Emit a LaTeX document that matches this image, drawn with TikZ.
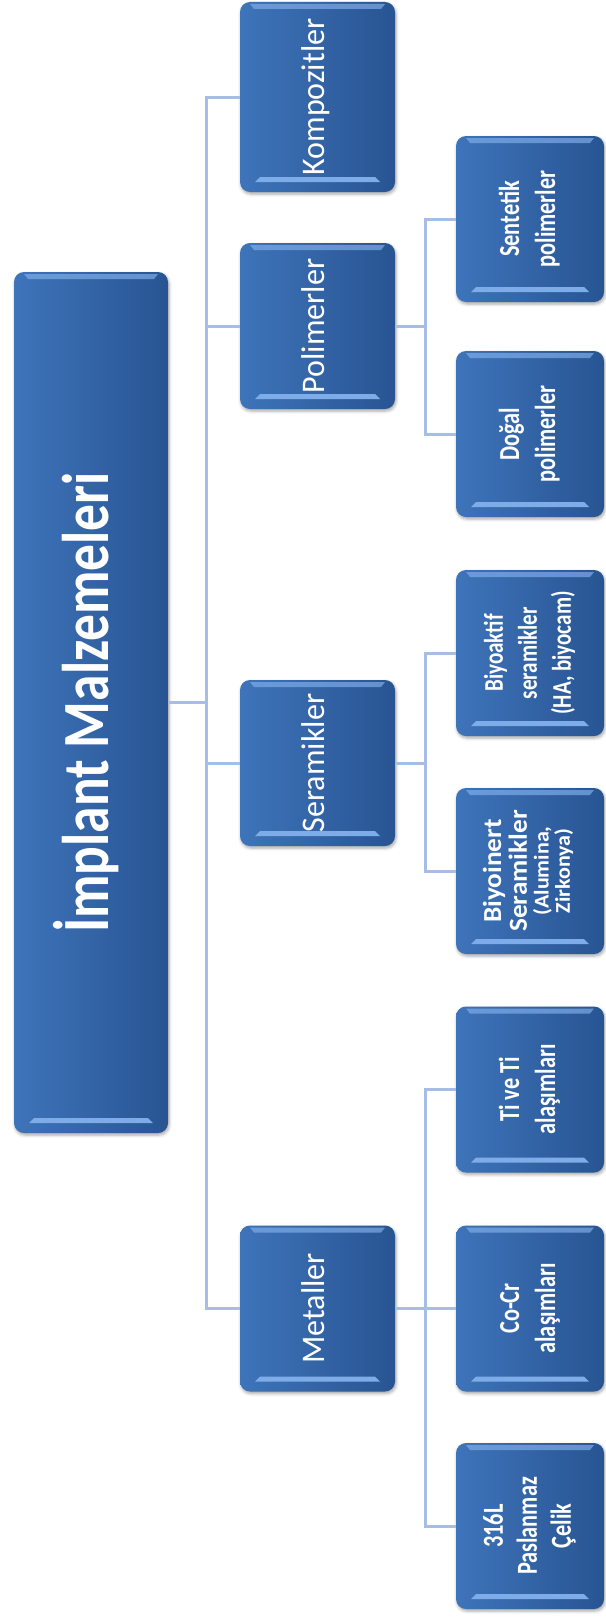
\documentclass[tikz,border=0pt]{standalone}
\usepackage{fontspec}
\setmainfont{Carlito}
\usetikzlibrary{shadows.blur}
\definecolor{boxleft}{RGB}{62,116,186}
\definecolor{boxright}{RGB}{40,84,146}
\definecolor{hilite}{RGB}{125,172,232}
\definecolor{linkblue}{RGB}{166,190,230}
\newcommand{\sidelabel}[3]{\rotatebox{90}{\scalebox{#1}[1]{#2\begin{tabular}{@{}c@{}}#3\end{tabular}}}}
\begin{document}
\begin{tikzpicture}[x=1pt,y=-1pt,
    box/.style={rounded corners=10pt,left color=boxleft,right color=boxright,
      text=white,inner sep=0pt,
      blur shadow={shadow xshift=1pt,shadow yshift=-2pt,shadow blur radius=3pt,shadow opacity=35},
      path picture={
        \fill[hilite,sharp corners]
          ([xshift=15pt,yshift=10pt]path picture bounding box.south west) --
          ([xshift=-15pt,yshift=10pt]path picture bounding box.south east) --
          ([xshift=-20pt,yshift=15pt]path picture bounding box.south east) --
          ([xshift=20pt,yshift=15pt]path picture bounding box.south west) -- cycle;
        \fill[hilite,sharp corners,opacity=0.7]
          ([xshift=10pt,yshift=-2pt]path picture bounding box.north west) --
          ([xshift=-10pt,yshift=-2pt]path picture bounding box.north east) --
          ([xshift=-14pt,yshift=-7pt]path picture bounding box.north east) --
          ([xshift=14pt,yshift=-7pt]path picture bounding box.north west) -- cycle;
      }},
    mainbox/.style={box,minimum width=154pt,minimum height=861pt},
    groupbox/.style={box,minimum width=155pt,minimum height=166pt},
    leafbox/.style={box,minimum width=148pt,minimum height=166pt},
    link/.style={draw=linkblue,line width=3pt}]
  \useasboundingbox (0,0) rectangle (605,1619);
  % boxes
  \node[mainbox] (root) at (91,702.5) {\sidelabel{0.81}{\fontsize{66}{70}\selectfont\bfseries}{İmplant Malzemeleri}};
  \node[groupbox,minimum height=190pt] (komp) at (317.5,97) {\sidelabel{0.97}{\fontsize{33}{36}\selectfont}{Kompozitler}};
  \node[groupbox] (poli) at (317.5,326) {\sidelabel{0.97}{\fontsize{33}{36}\selectfont}{Polimerler}};
  \node[groupbox] (sera) at (317.5,763) {\sidelabel{0.97}{\fontsize{33}{36}\selectfont}{Seramikler}};
  \node[groupbox] (meta) at (317.5,1308.5) {\sidelabel{0.97}{\fontsize{33}{36}\selectfont}{Metaller}};
  \node[leafbox] (sent) at (530,219) {\sidelabel{0.77}{\fontsize{29}{36}\selectfont\bfseries}{Sentetik\\polimerler}};
  \node[leafbox] (dogal) at (530,434) {\sidelabel{0.77}{\fontsize{29}{36}\selectfont\bfseries}{Doğal\\polimerler}};
  \node[leafbox] (biyoak) at (530,653) {\sidelabel{0.78}{\fontsize{27}{34}\selectfont\bfseries}{Biyoaktif\\seramikler\\(HA, biyocam)}};
  \node[leafbox] (biyoin) at (530,871) {\sidelabel{1.05}{\fontsize{26}{25}\selectfont\bfseries}{Biyoinert\\Seramikler\\[-3pt]{\fontsize{21}{21}\selectfont(Alumina,}\\[-4pt]{\fontsize{21}{21}\selectfont Zirkonya)}}};
  \node[leafbox] (titan) at (530,1089.5) {\sidelabel{0.77}{\fontsize{29}{36}\selectfont\bfseries}{Ti ve Ti\\alaşımları}};
  \node[leafbox] (cocr) at (530,1308.5) {\sidelabel{0.77}{\fontsize{29}{36}\selectfont\bfseries}{Co-Cr\\alaşımları}};
  \node[leafbox] (celik) at (530,1526) {\sidelabel{0.77}{\fontsize{29}{34}\selectfont\bfseries}{316L\\Paslanmaz\\Çelik}};
  % connectors
  \coordinate (j0) at (206,702.5);
  \coordinate (jp) at (425,326);
  \coordinate (js) at (425,763);
  \coordinate (jm) at (425,1308.5);
  \draw[link] (root.east) -- (j0) |- (komp.west);
  \draw[link] (j0) |- (poli.west);
  \draw[link] (j0) |- (sera.west);
  \draw[link] (j0) |- (meta.west);
  \draw[link] (poli.east) -- (jp) |- (sent.west);
  \draw[link] (jp) |- (dogal.west);
  \draw[link] (sera.east) -- (js) |- (biyoak.west);
  \draw[link] (js) |- (biyoin.west);
  \draw[link] (meta.east) -- (jm) |- (titan.west);
  \draw[link] (jm) -- (cocr.west);
  \draw[link] (jm) |- (celik.west);
\end{tikzpicture}
\end{document}
